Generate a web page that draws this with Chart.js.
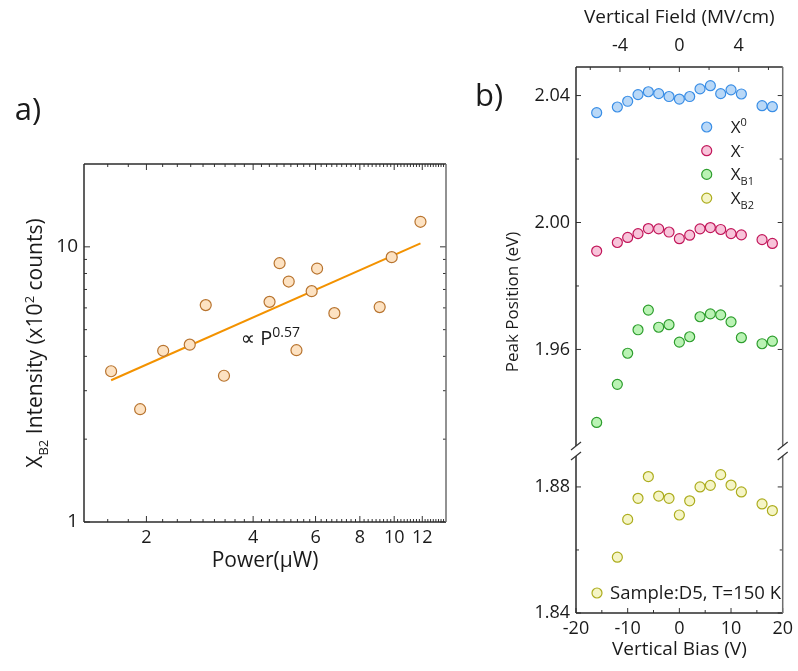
<!DOCTYPE html>
<html>
<head>
<meta charset="utf-8">
<script src="https://cdn.jsdelivr.net/npm/chart.js@4.4.1/dist/chart.umd.min.js"></script>
<style>
  html, body { margin: 0; padding: 0; background: #fff; }
  body { width: 798px; height: 671px; position: relative; overflow: hidden; }
  canvas { position: absolute; top: 0; }
  #powerChart { left: 0; }
  #biasChart { left: 460px; }
</style>
</head>
<body>
<canvas id="powerChart" width="470" height="671"></canvas>
<canvas id="biasChart" width="338" height="671"></canvas>
<script>
// ---- a) X_B2 intensity vs excitation power ----
const powerUW = [1.59, 1.92, 2.23, 2.65, 2.94, 3.31, 4.45, 4.75, 5.04, 5.30, 5.85, 6.06, 6.78, 9.10, 9.84, 11.86];
const intensityB2 = [3.53, 2.57, 4.19, 4.41, 6.14, 3.40, 6.31, 8.72, 7.48, 4.21, 6.90, 8.34, 5.74, 6.04, 9.17, 12.33];
const fitExponent = 0.57;
const fitPrefactor = 2.514;
const fitPowerRange = [1.59, 11.86];
const powerTickLabels = [2, 4, 6, 8, 10, 12];
const intensityTickLabels = [1, 10];
const intensityMinorTicks = [2, 3, 4, 5, 6, 7, 8, 9];

// ---- b) peak positions vs vertical bias ----
const biasV = [-16, -12, -10, -8, -6, -4, -2, 0, 2, 4, 6, 8, 10, 12, 16, 18];
const peakX0 = [2.0346, 2.0364, 2.0382, 2.0403, 2.0412, 2.0406, 2.0397, 2.0389, 2.0397, 2.0421, 2.0431, 2.0406, 2.0418, 2.0405, 2.0368, 2.0365];
const peakXminus = [1.9910, 1.9937, 1.9953, 1.9965, 1.9981, 1.9980, 1.9970, 1.9949, 1.9960, 1.9980, 1.9984, 1.9978, 1.9965, 1.9961, 1.9946, 1.9934];
const peakXB1 = [1.9370, 1.9490, 1.9588, 1.9662, 1.9724, 1.9670, 1.9678, 1.9623, 1.9640, 1.9703, 1.9712, 1.9709, 1.9687, 1.9637, 1.9618, 1.9626];
const biasXB2 = [-12, -10, -8, -6, -4, -2, 0, 2, 4, 6, 8, 10, 12, 16, 18];
const peakXB2 = [1.8577, 1.8697, 1.8764, 1.8833, 1.8771, 1.8764, 1.8711, 1.8756, 1.8800, 1.8805, 1.8839, 1.8806, 1.8784, 1.8746, 1.8725];
const biasTickLabels = [-20, -10, 0, 10, 20];
const biasMinorTicks = [-15, -5, 5, 15];
const fieldTickLabels = [-4, 0, 4];
const fieldMinorTicks = [-6, -2, 2, 6];
const peakUpperTicks = [2.04, 2.00, 1.96];
const peakUpperMinor = [2.02, 1.98];
const peakLowerTicks = [1.88, 1.84];
const peakLowerMinor = [1.86];
const fieldPerVolt = 0.348; // MV/cm per volt of gate bias

const FONT = "'Open Sans', 'DejaVu Sans', sans-serif";
Chart.defaults.font.family = FONT;
Chart.defaults.color = '#1a1a1a';
Chart.defaults.animation = false;

// text with sub/superscripts, parts = [[text, ''|'sub'|'sup'], ...]
function richText(ctx, parts, x, y, size, align, rotate, smallRatio) {
  ctx.save();
  ctx.translate(x, y);
  if (rotate) ctx.rotate(rotate);
  const small = Math.round(size * (smallRatio || 0.62));
  let total = 0;
  const widths = parts.map(([t, k]) => {
    ctx.font = (k ? small : size) + 'px ' + FONT;
    const w = ctx.measureText(t).width;
    total += w;
    return w;
  });
  let cx = align === 'center' ? -total / 2 : 0;
  const base = size * 0.35;
  ctx.textBaseline = 'alphabetic';
  ctx.textAlign = 'left';
  ctx.fillStyle = '#1a1a1a';
  parts.forEach(([t, k], i) => {
    ctx.font = (k ? small : size) + 'px ' + FONT;
    let dy = 0;
    if (k === 'sub') dy = size * 0.28;
    if (k === 'sup') dy = -size * 0.42;
    ctx.fillText(t, cx, base + dy);
    cx += widths[i];
  });
  ctx.restore();
}

function tickMarks(ctx, area, scale, values, len, edges) {
  values.forEach(v => {
    const p = scale.getPixelForValue(v);
    edges.forEach(edge => {
      ctx.beginPath();
      if (edge === 'bottom') { ctx.moveTo(p, area.bottom); ctx.lineTo(p, area.bottom - len); }
      if (edge === 'top') { ctx.moveTo(p, area.top); ctx.lineTo(p, area.top + len); }
      if (edge === 'left') { ctx.moveTo(area.left, p); ctx.lineTo(area.left + len, p); }
      if (edge === 'right') { ctx.moveTo(area.right, p); ctx.lineTo(area.right - len, p); }
      ctx.stroke();
    });
  });
}

function line(ctx, x1, y1, x2, y2) {
  ctx.beginPath();
  ctx.moveTo(x1, y1);
  ctx.lineTo(x2, y2);
  ctx.stroke();
}

// minor log ticks: 8 between every pair of majors (step 2)
const powerMinorTicks = [];
for (let m = 0; m < 14; m += 2) {
  for (let k = 1; k <= 8; k++) {
    const v = m + k * 2 / 9;
    if (v > 4 / 3 + 0.01 && v < 14) powerMinorTicks.push(v);
  }
}

const powerDecor = {
  id: 'powerDecor',
  afterDraw(chart) {
    const { ctx, chartArea: a, scales } = chart;
    ctx.save();
    ctx.lineWidth = 1;
    ctx.strokeStyle = '#333';
    tickMarks(ctx, a, scales.x, powerTickLabels, 6, ['bottom', 'top']);
    tickMarks(ctx, a, scales.x, powerMinorTicks, 3, ['bottom', 'top']);
    tickMarks(ctx, a, scales.y, intensityTickLabels, 6, ['left', 'right']);
    tickMarks(ctx, a, scales.y, intensityMinorTicks, 3, ['left', 'right']);
    ctx.lineWidth = 1.5;
    ctx.strokeStyle = '#2b2b2b';
    line(ctx, a.left, a.top, a.right, a.top);
    line(ctx, a.left, a.top, a.left, a.bottom);
    line(ctx, a.left, a.bottom, a.right, a.bottom);
    ctx.strokeStyle = '#6e6e6e';
    line(ctx, a.right, a.top, a.right, a.bottom);

    richText(ctx, [['X', ''], ['B2', 'sub'], [' Intensity (x10', ''], ['2', 'sup'], [' counts)', '']],
      35, (a.top + a.bottom) / 2, 21, 'center', -Math.PI / 2);
    richText(ctx, [['\u221D P', ''], ['0.57', 'sup']],
      scales.x.getPixelForValue(3.69), scales.y.getPixelForValue(4.40) - 7, 20, 'left', 0, 0.7);

    ctx.font = '31px ' + FONT;
    ctx.fillStyle = '#1a1a1a';
    ctx.textAlign = 'center';
    ctx.textBaseline = 'middle';
    ctx.fillText('a)', 28, 111);
    ctx.restore();
  }
};

new Chart(document.getElementById('powerChart'), {
  type: 'scatter',
  data: {
    datasets: [{
      label: 'X_B2',
      data: powerUW.map((p, i) => ({ x: p, y: intensityB2[i] })),
      pointRadius: 5.5,
      pointBorderWidth: 1.2,
      pointBackgroundColor: '#fde2c2',
      pointBorderColor: '#b8742f'
    }, {
      label: 'fit',
      data: fitPowerRange.map(p => ({ x: p, y: fitPrefactor * Math.pow(p, fitExponent) })),
      showLine: true,
      pointRadius: 0,
      borderColor: '#f39200',
      borderWidth: 2,
      order: 1
    }]
  },
  options: {
    responsive: false,
    layout: { padding: { left: 0, top: 164, right: 24, bottom: 89 } },
    plugins: { legend: { display: false }, tooltip: { enabled: false } },
    scales: {
      x: {
        type: 'logarithmic',
        min: 4 / 3,
        max: 14,
        grid: { display: false, drawTicks: false },
        border: { display: false },
        afterBuildTicks: s => { s.ticks = powerTickLabels.map(v => ({ value: v })); },
        afterFit: s => { s.height = 60; },
        ticks: { font: { size: 18 }, padding: 5, autoSkip: false, maxRotation: 0, callback: v => String(v) },
        title: { display: true, text: 'Power(\u03BCW)', font: { size: 21 }, padding: { bottom: 8 } }
      },
      y: {
        type: 'logarithmic',
        min: 1,
        max: 20,
        grid: { display: false, drawTicks: false },
        border: { display: false },
        afterBuildTicks: s => { s.ticks = intensityTickLabels.map(v => ({ value: v })); },
        afterFit: s => { s.width = 84; },
        ticks: { font: { size: 19 }, padding: 6, autoSkip: false, callback: v => String(v) }
      }
    }
  },
  plugins: [powerDecor]
});

const seriesNames = [
  [['X', ''], ['0', 'sup']],
  [['X', ''], ['-', 'sup']],
  [['X', ''], ['B1', 'sub']],
  [['X', ''], ['B2', 'sub']]
];
const seriesFill = ['#b9d8f7', '#f8c4da', '#baf3b4', '#f5f5c6'];
const seriesEdge = ['#3a8ee6', '#c2185b', '#2e9e2e', '#adad1f'];

function marker(ctx, x, y, i) {
  ctx.beginPath();
  ctx.arc(x, y, 5, 0, Math.PI * 2);
  ctx.fillStyle = seriesFill[i];
  ctx.fill();
  ctx.lineWidth = 1.2;
  ctx.strokeStyle = seriesEdge[i];
  ctx.stroke();
}

const biasDecor = {
  id: 'biasDecor',
  afterDraw(chart) {
    const { ctx, chartArea: a, scales } = chart;
    const brk = scales.yTop.bottom;
    ctx.save();
    ctx.lineWidth = 1;
    ctx.strokeStyle = '#333';
    tickMarks(ctx, a, scales.x, biasTickLabels, 5, ['bottom']);
    tickMarks(ctx, a, scales.x, biasMinorTicks, 3, ['bottom']);
    tickMarks(ctx, a, scales.xTop, fieldTickLabels, 5, ['top']);
    tickMarks(ctx, a, scales.xTop, fieldMinorTicks, 3, ['top']);
    tickMarks(ctx, a, scales.yTop, peakUpperTicks, 5, ['left', 'right']);
    tickMarks(ctx, a, scales.yTop, peakUpperMinor, 3, ['left', 'right']);
    tickMarks(ctx, a, scales.yBot, peakLowerTicks, 5, ['left', 'right']);
    tickMarks(ctx, a, scales.yBot, peakLowerMinor, 3, ['left', 'right']);

    // frame with a gap at the axis break
    ctx.lineWidth = 1.5;
    ctx.strokeStyle = '#2b2b2b';
    line(ctx, a.left, a.top, a.right, a.top);
    line(ctx, a.left, a.bottom, a.right, a.bottom);
    line(ctx, a.left, a.top, a.left, brk - 5);
    line(ctx, a.left, brk + 5, a.left, a.bottom);
    ctx.strokeStyle = '#6e6e6e';
    line(ctx, a.right, a.top, a.right, brk - 5);
    line(ctx, a.right, brk + 5, a.right, a.bottom);
    ctx.lineWidth = 1.2;
    ctx.strokeStyle = '#333';
    [a.left, a.right].forEach(x => {
      line(ctx, x - 5, brk - 1, x + 5, brk - 9);
      line(ctx, x - 5, brk + 9, x + 5, brk + 1);
    });

    // legend
    seriesNames.forEach((parts, i) => {
      const y = a.top + 60 + i * 23.7;
      marker(ctx, a.right - 76, y, i);
      richText(ctx, parts, a.right - 52, y, 17, 'left', 0);
    });
    marker(ctx, a.left + 21, a.bottom - 20, 3);
    richText(ctx, [['Sample:D5, T=150 K', '']], a.left + 34, a.bottom - 20, 18.5, 'left', 0);

    ctx.font = '17px ' + FONT;
    ctx.fillStyle = '#1a1a1a';
    ctx.save();
    ctx.translate(53, 302);
    ctx.rotate(-Math.PI / 2);
    ctx.textAlign = 'center';
    ctx.textBaseline = 'middle';
    ctx.fillText('Peak Position (eV)', 0, 0);
    ctx.restore();

    ctx.font = '31px ' + FONT;
    ctx.textAlign = 'center';
    ctx.textBaseline = 'middle';
    ctx.fillText('b)', 29, 97);
    ctx.restore();
  }
};

function pointSet(label, xs, ys, i, axis) {
  return {
    label,
    data: xs.map((x, k) => ({ x, y: ys[k] })),
    yAxisID: axis,
    pointRadius: 5,
    pointBorderWidth: 1.2,
    pointBackgroundColor: seriesFill[i],
    pointBorderColor: seriesEdge[i]
  };
}

const axisOff = { grid: { display: false, drawTicks: false }, border: { display: false } };

new Chart(document.getElementById('biasChart'), {
  type: 'scatter',
  data: {
    datasets: [
      pointSet('X0', biasV, peakX0, 0, 'yTop'),
      pointSet('X-', biasV, peakXminus, 1, 'yTop'),
      pointSet('XB1', biasV, peakXB1, 2, 'yTop'),
      pointSet('XB2', biasXB2, peakXB2, 3, 'yBot')
    ]
  },
  options: {
    responsive: false,
    layout: { padding: { left: 0, top: 0, right: 11, bottom: 0 } },
    plugins: { legend: { display: false }, tooltip: { enabled: false } },
    scales: {
      x: {
        ...axisOff,
        type: 'linear',
        position: 'bottom',
        min: -20,
        max: 20,
        afterBuildTicks: s => { s.ticks = biasTickLabels.map(v => ({ value: v })); },
        afterFit: s => { s.height = 58; },
        ticks: { font: { size: 18 }, padding: 5, autoSkip: false, maxRotation: 0 },
        title: { display: true, text: 'Vertical Bias (V)', font: { size: 19 }, padding: { bottom: 10 } }
      },
      xTop: {
        ...axisOff,
        type: 'linear',
        position: 'top',
        min: -20 * fieldPerVolt,
        max: 20 * fieldPerVolt,
        afterBuildTicks: s => { s.ticks = fieldTickLabels.map(v => ({ value: v })); },
        afterFit: s => { s.height = 67; },
        ticks: { font: { size: 18 }, padding: 10, autoSkip: false, maxRotation: 0 },
        title: { display: true, text: 'Vertical Field (MV/cm)', font: { size: 19 }, padding: { top: 6 } }
      },
      // lower segment of the broken axis is listed first so it stacks below
      yBot: {
        ...axisOff,
        type: 'linear',
        position: 'left',
        stack: 'peak',
        stackWeight: 162,
        min: 1.84,
        max: 1.8914,
        afterBuildTicks: s => { s.ticks = peakLowerTicks.map(v => ({ value: v })); },
        afterFit: s => { s.width = 116; },
        ticks: { font: { size: 18 }, padding: 6, autoSkip: false, callback: v => v.toFixed(2) }
      },
      yTop: {
        ...axisOff,
        type: 'linear',
        position: 'left',
        stack: 'peak',
        stackWeight: 384,
        min: 1.928,
        max: 2.049,
        afterBuildTicks: s => { s.ticks = peakUpperTicks.map(v => ({ value: v })); },
        afterFit: s => { s.width = 116; },
        ticks: { font: { size: 18 }, padding: 6, autoSkip: false, callback: v => v.toFixed(2) }
      }
    }
  },
  plugins: [biasDecor]
});
</script>
</body>
</html>
